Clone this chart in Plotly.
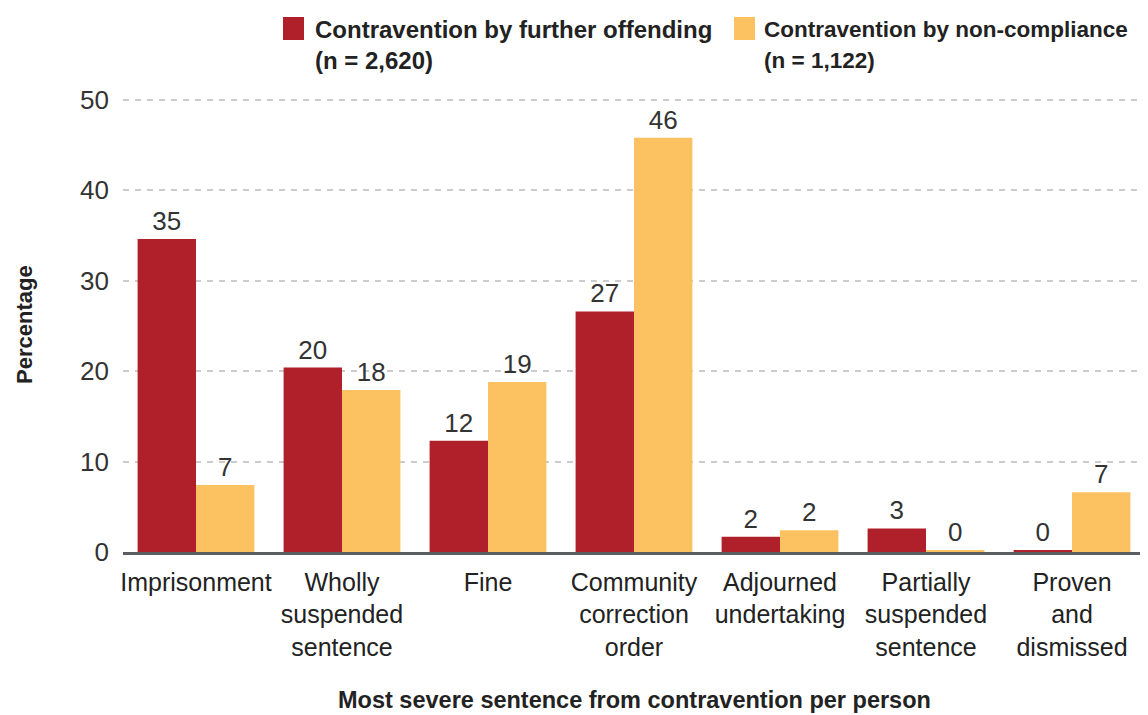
import plotly.graph_objects as go

categories = ["Imprisonment", "Wholly<br>suspended<br>sentence", "Fine",
              "Community<br>correction<br>order", "Adjourned<br>undertaking",
              "Partially<br>suspended<br>sentence", "Proven<br>and<br>dismissed"]
further_offending = [34.6, 20.4, 12.3, 26.6, 1.7, 2.6, 0.2]
non_compliance = [7.4, 17.9, 18.8, 45.8, 2.4, 0.15, 6.6]
series_names = ["Contravention by further offending", "Contravention by non-compliance"]
series_n = ["(n = 2,620)", "(n = 1,122)"]
colors = ["#B0202A", "#FCC262"]
y_ticks = [0, 10, 20, 30, 40, 50]

# page body has an 8px margin; compensate so the figure lines up with the window
OFF = 8
W, H = 1148 - OFF, 715 - OFF
ML, MR, MT, MB = 123 - OFF, 3, 98 - OFF, 163
PW, PH = W - ML - MR, H - MT - MB

def px(x):
    return (x - OFF - ML) / PW

def py(y):
    return (H - MB - (y - OFF)) / PH

fig = go.Figure()
for vals, name, col in zip([further_offending, non_compliance], series_names, colors):
    fig.add_trace(go.Bar(
        x=categories, y=vals, name=name, marker=dict(color=col, line=dict(width=0)),
        text=vals, texttemplate="%{y:.0f}", textposition="outside",
        textfont=dict(family="Liberation Sans, Arial", size=26, color="#333333"),
        cliponaxis=False, showlegend=False,
    ))

fig.update_layout(
    width=W, height=H,
    margin=dict(l=ML, r=MR, t=MT, b=MB),
    paper_bgcolor="white", plot_bgcolor="white",
    barmode="group", bargap=0.2, bargroupgap=0,
    font=dict(family="Liberation Sans, Arial", color="#333333"),
    xaxis=dict(
        showgrid=False, showline=True, linecolor="#5a5d62", linewidth=2.5,
        tickfont=dict(size=25, color="#222222"), ticks="", ticklabelstandoff=6,
        range=[-0.5, 6.5], fixedrange=True,
    ),
    yaxis=dict(
        range=[0, 50.2], tickvals=y_ticks, showgrid=True, gridcolor="#cccccc",
        gridwidth=1.5, griddash="6px,6px", zeroline=False, showline=False,
        tickfont=dict(size=26, color="#333333"), ticks="", ticklabelstandoff=13,
    ),
)

annotations = []
shapes = []
sw_x = [283, 734]
tx_x = [313, 762]
tx_size = [24, 22.5]
for i in range(2):
    shapes.append(dict(type="rect", xref="paper", yref="paper",
                       x0=px(sw_x[i]), x1=px(sw_x[i] + 21), y0=py(40), y1=py(17),
                       fillcolor=colors[i], line=dict(width=0)))
    for line, yc in ((series_names[i], 29), (series_n[i], 61)):
        annotations.append(dict(
            xref="paper", yref="paper", x=px(tx_x[i]), y=py(yc), xanchor="left",
            yanchor="middle", align="left", showarrow=False,
            text="<b>" + line + "</b>",
            font=dict(family="Liberation Sans, Arial", size=tx_size[i], color="#222222"),
        ))

annotations.append(dict(
    xref="paper", yref="paper", x=px(24), y=py(325), xanchor="center", yanchor="middle",
    textangle=-90, showarrow=False, text="<b>Percentage</b>",
    font=dict(family="Liberation Sans, Arial", size=22, color="#222222"),
))
annotations.append(dict(
    xref="paper", yref="paper", x=px(634), y=py(700), xanchor="center", yanchor="middle",
    showarrow=False, text="<b>Most severe sentence from contravention per person</b>",
    font=dict(family="Liberation Sans, Arial", size=23.5, color="#222222"),
))
fig.update_layout(annotations=annotations, shapes=shapes)

fig.write_html("out.html")
